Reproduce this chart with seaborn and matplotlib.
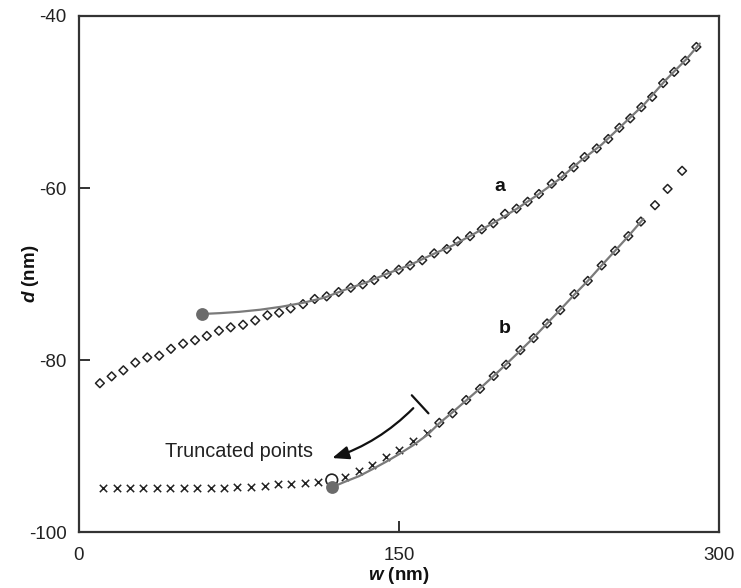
import pandas as pd
import matplotlib
matplotlib.use("Agg")
import matplotlib.pyplot as plt
import seaborn as sns

# ---- data -------------------------------------------------------------
# series a: measured points (open diamonds)
w_a = [9.8, 15.3, 20.8, 26.4, 32.0, 37.6, 43.1, 48.8, 54.4, 59.9, 65.6, 71.1,
       76.9, 82.6, 88.3, 93.8, 99.2, 105.0, 110.5, 116.1, 121.7, 127.4, 133.0,
       138.4, 144.2, 149.9, 155.2, 160.9, 166.5, 172.4, 177.5, 183.3, 188.8,
       194.2, 199.7, 205.1, 210.3, 215.6, 221.6, 226.5, 231.9, 237.0, 242.7,
       248.1, 253.3, 258.4, 263.6, 268.7, 273.8, 279.0, 284.2, 289.4]
d_a = [-82.7, -81.9, -81.2, -80.3, -79.7, -79.5, -78.7, -78.1, -77.7, -77.2,
       -76.6, -76.2, -75.9, -75.4, -74.8, -74.5, -74.0, -73.5, -72.9, -72.6,
       -72.1, -71.6, -71.2, -70.7, -70.0, -69.5, -69.0, -68.4, -67.6, -67.1,
       -66.2, -65.6, -64.8, -64.1, -63.0, -62.4, -61.6, -60.7, -59.5, -58.6,
       -57.6, -56.4, -55.4, -54.3, -53.0, -51.9, -50.6, -49.4, -47.8, -46.5,
       -45.2, -43.6]

# series a: fitted curve
w_fit_a = [57.5, 66, 75, 85, 95, 105, 115, 125, 135, 145, 155, 165, 175, 185,
           195, 205, 215, 225, 235, 245, 255, 265, 275, 285, 291]
d_fit_a = [-74.65, -74.55, -74.4, -74.15, -73.8, -73.35, -72.75, -71.8, -70.95,
           -69.9, -68.97, -67.8, -66.7, -65.35, -63.95, -62.45, -60.8, -59.0,
           -56.87, -54.95, -52.6, -50.25, -47.45, -44.95, -43.2]

# series b: truncated points (crosses)
w_b_trunc = [11.4, 17.7, 23.9, 30.1, 36.6, 42.8, 49.1, 55.3, 61.7, 68.0, 74.2,
             80.5, 87.0, 93.1, 99.5, 105.8, 112.2, 124.7, 131.3, 137.5, 143.8,
             150.0, 156.7, 163.3]
d_b_trunc = [-94.9, -94.9, -94.9, -94.9, -94.9, -94.9, -94.9, -94.9, -94.85,
             -94.85, -94.8, -94.75, -94.65, -94.45, -94.4, -94.25, -94.15,
             -93.65, -92.9, -92.2, -91.25, -90.5, -89.45, -88.5]

# series b: fitted points (open diamonds)
w_b = [168.9, 175.1, 181.5, 188.0, 194.4, 200.2, 206.9, 213.1, 219.4, 225.6,
       232.2, 238.5, 245.0, 251.3, 257.5, 263.4, 270.0, 275.9, 282.7]
d_b = [-87.3, -86.2, -84.65, -83.35, -81.85, -80.55, -78.85, -77.45, -75.75,
       -74.2, -72.35, -70.8, -69.0, -67.3, -65.6, -63.9, -62.0, -60.1, -58.0]

# series b: fitted curve
w_fit_b = [118.5, 124.7, 131.3, 137.5, 143.8, 150.0, 156.7, 163.3, 168.9, 175.0,
           181.5, 188.0, 194.4, 200.2, 206.9, 213.1, 219.4, 225.6, 232.2, 238.5,
           245.0, 251.3, 257.5, 264.5]
d_fit_b = [-94.8, -94.15, -93.5, -92.7, -91.85, -90.95, -89.9, -88.7, -87.35,
           -86.1, -84.7, -83.3, -81.85, -80.5, -78.9, -77.4, -75.75, -74.15,
           -72.4, -70.8, -69.0, -67.3, -65.6, -63.6]

# fit starting points (filled) and the first truncated point (open circle)
w_start = [57.5, 118.5]
d_start = [-74.65, -94.8]
w_open = [118.5]
d_open = [-93.95]

# truncation marker and arrow
w_cut = [156.0, 163.8]
d_cut = [-84.1, -86.2]
arrow_from = (156.7, -85.6)
arrow_to = (118.7, -91.4)

x_ticks = [0, 150, 300]
y_ticks = [-100, -80, -60, -40]

# ---- plot -------------------------------------------------------------
sns.set_style("ticks")
plt.rcParams["font.family"] = ["Liberation Sans", "DejaVu Sans"]
plt.rcParams["font.sans-serif"] = ["Liberation Sans", "DejaVu Sans"]
plt.rcParams["axes.unicode_minus"] = False
plt.rcParams["mathtext.fontset"] = "custom"
plt.rcParams["mathtext.bfit"] = "sans:italic:bold"
plt.rcParams["mathtext.rm"] = "sans"

fig = plt.figure(figsize=(7.41, 5.88), dpi=100)
ax = fig.add_axes([0.1066, 0.0952, 0.8637, 0.8776])

line_col = "#7a7a7a"
mark_col = "#222222"

df_a = pd.DataFrame({"w": w_a, "d": d_a})
df_b = pd.DataFrame({"w": w_b, "d": d_b})
df_t = pd.DataFrame({"w": w_b_trunc, "d": d_b_trunc})

sns.scatterplot(data=df_a, x="w", y="d", marker="D", s=20,
                facecolors="none", edgecolor=mark_col, linewidth=1.1, ax=ax, zorder=3)
sns.scatterplot(data=df_b, x="w", y="d", marker="D", s=20,
                facecolors="none", edgecolor=mark_col, linewidth=1.1, ax=ax, zorder=3)
sns.scatterplot(data=df_t, x="w", y="d", marker="x", s=28,
                color=mark_col, linewidth=1.1, ax=ax, zorder=3)

sns.lineplot(x=w_fit_a, y=d_fit_a, color=line_col, linewidth=1.6, ax=ax,
             zorder=4, sort=False)
sns.lineplot(x=w_fit_b, y=d_fit_b, color=line_col, linewidth=1.6, ax=ax,
             zorder=4, sort=False)

ax.scatter(w_open, d_open, s=70, facecolors="none", edgecolors=mark_col,
           linewidths=1.2, zorder=5)
ax.scatter(w_start, d_start, s=85, color="#6b6b6b", zorder=6, linewidths=0)

# truncation cut and arrow
ax.plot(w_cut, d_cut, color="#111111", linewidth=1.6, zorder=5)
ax.annotate("", xy=arrow_to, xytext=arrow_from,
            arrowprops=dict(arrowstyle="-|>,head_length=1.0,head_width=0.4",
                            color="#111111", lw=1.6, shrinkA=0, shrinkB=0,
                            connectionstyle="arc3,rad=-0.12"))
ax.text(109.7, -90.6, "Truncated points", fontsize=14.3, ha="right",
        va="center", color="#222222")

ax.text(197.3, -59.8, "a", fontsize=14, fontweight="bold", ha="center",
        va="center", color="#111111")
ax.text(199.3, -76.3, "b", fontsize=14, fontweight="bold", ha="center",
        va="center", color="#111111")

ax.set_xlim(0, 300)
ax.set_ylim(-100, -40)
ax.set_xticks(x_ticks)
ax.set_yticks(y_ticks)
ax.tick_params(direction="in", length=8, width=1.3, labelsize=13.5,
               colors="#222222", pad=9)
ax.tick_params(axis="x", pad=11)
for sp in ax.spines.values():
    sp.set_linewidth(1.6)
    sp.set_color("#333333")

ax.set_xlabel(r"$\mathbfit{w}$ (nm)", fontsize=13.5, fontweight="bold",
              color="#111111", va="center")
ax.set_ylabel(r"$\mathbfit{d}$ (nm)", fontsize=13.5, fontweight="bold",
              color="#111111", va="center")
ax.xaxis.set_label_coords(0.5, -0.085)
ax.yaxis.set_label_coords(-0.076, 0.5)

fig.savefig("out.png", dpi=100)
